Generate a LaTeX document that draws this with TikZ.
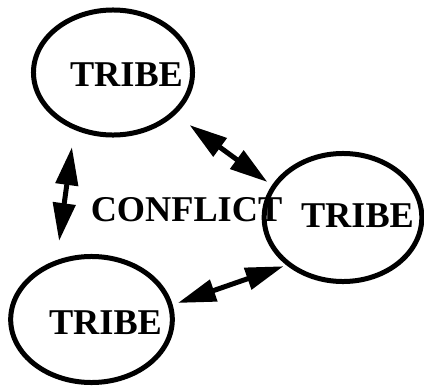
\documentclass[tikz,border=0pt]{standalone}
\usepackage{fontspec}
\setmainfont{Liberation Serif}
\usetikzlibrary{arrows.meta,shapes.geometric}

\begin{document}
\begin{tikzpicture}[
    font=\fontsize{25.8}{30}\selectfont\bfseries,
    x=0.025cm, y=-0.025cm,
    tribe/.style={ellipse, draw=black, line width=0.125cm, inner sep=0pt, outer sep=0pt},
    tribe name/.style={inner sep=0pt, text=black},
    arrow/.style={{Triangle[length=0.95cm,width=0.55cm]}-{Triangle[length=0.95cm,width=0.55cm]}, line width=0.125cm}
  ]
  \useasboundingbox (0,0) rectangle (424,389);

  \node[tribe, minimum width=3.975cm, minimum height=3.125cm] (north) at (113,72.5) {};
  \node[tribe, minimum width=3.94cm, minimum height=3.2cm] (east) at (343,217.5) {};
  \node[tribe, minimum width=4.04cm, minimum height=3.15cm] (south) at (91.5,319.5) {};

  \node[tribe name] (north name) at (126.5,75) {TRIBE};
  \node[tribe name] (east name) at (357.5,215.5) {TRIBE};
  \node[tribe name] (south name) at (105.5,322.5) {TRIBE};
  \node[tribe name] (conflict) at (186.5,210) {CONFLICT};

  \draw[arrow, shorten <=0.5cm, shorten >=0.2cm] (north.-34.5) -- (east.156.8);
  \draw[arrow, shorten <=0.5cm, shorten >=0.55cm] (north.-125.5) -- (south.122);
  \draw[arrow, shorten <=0.2cm, shorten >=0.15cm] (south.10.3) -- (east.-139.5);
\end{tikzpicture}
\end{document}
